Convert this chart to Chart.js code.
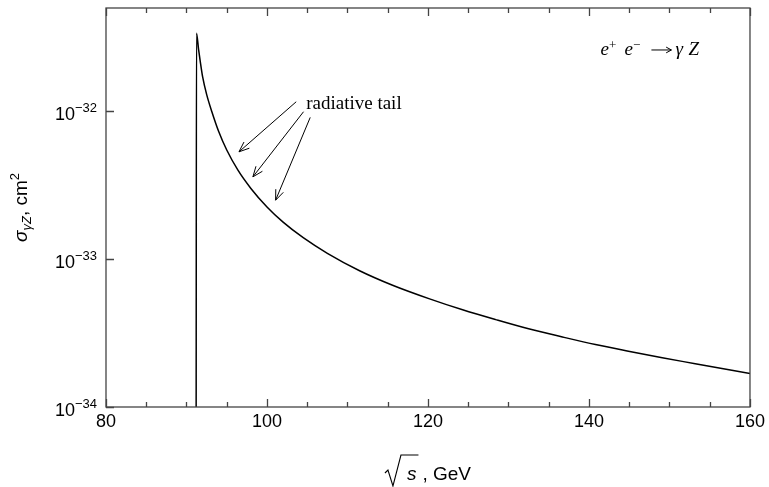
<!DOCTYPE html>
<html>
<head>
<meta charset="utf-8">
<script src="https://cdn.jsdelivr.net/npm/chart.js@4.4.1/dist/chart.umd.min.js"></script>
<style>
  html, body { margin: 0; padding: 0; background: #fff; }
  canvas { display: block; }
</style>
</head>
<body>
<canvas id="sigmaChart" width="769" height="487"></canvas>
<script>
// sqrt(s) in GeV (first point is the threshold drop)
const energy = [91.2, 91.24, 91.5, 91.69, 92.0, 92.5, 93.14, 94.0, 95.0, 96.39, 98.0, 100, 102, 104.5,
    107.5, 111.5, 115.6, 120.2, 124.3, 128.4, 132.5, 136.7, 140.8, 144.9, 149.1, 153.2, 160];
// cross section sigma_gammaZ in cm^2
const sigma = [1e-34, 3.33e-32, 2.60e-32, 2.19e-32, 1.70e-32, 1.29e-32, 9.89e-33, 7.24e-33, 5.43e-33, 3.97e-33,
    2.99e-33, 2.24e-33, 1.77e-33, 1.39e-33, 1.09e-33, 8.32e-34, 6.64e-34, 5.37e-34, 4.53e-34, 3.89e-34,
    3.37e-34, 2.97e-34, 2.64e-34, 2.38e-34, 2.15e-34, 1.96e-34, 1.68e-34];

// axis ticks
const xLabels = [80, 100, 120, 140, 160];
const xMinorStep = 5;
const yDecades = [-34, -33, -32];

// arrows pointing at the radiative tail: [fromX, fromY, toX, toY]
const tailArrows = [
    [103.63, 1.15e-32, 96.52, 5.28e-33],
    [104.54, 9.85e-33, 98.25, 3.58e-33],
    [105.37, 9.02e-33, 101.07, 2.49e-33]
];

const SANS = '"Liberation Sans", Arial, sans-serif';
const SERIF = '"Liberation Serif", "Times New Roman", serif';

// draw text made of pieces with their own font and vertical shift
function richWidth(ctx, parts) {
    let w = 0;
    parts.forEach(p => { ctx.font = p.font; w += ctx.measureText(p.t).width; });
    return w;
}
function drawRich(ctx, x, y, parts) {
    let cx = x;
    parts.forEach(p => {
        ctx.font = p.font;
        ctx.fillText(p.t, cx, y + (p.dy || 0));
        cx += ctx.measureText(p.t).width;
    });
}

function drawArrow(ctx, x1, y1, x2, y2, len, spread) {
    const ang = Math.atan2(y2 - y1, x2 - x1);
    ctx.beginPath();
    ctx.moveTo(x1, y1);
    ctx.lineTo(x2, y2);
    ctx.moveTo(x2 - len * Math.cos(ang - spread), y2 - len * Math.sin(ang - spread));
    ctx.lineTo(x2, y2);
    ctx.lineTo(x2 - len * Math.cos(ang + spread), y2 - len * Math.sin(ang + spread));
    ctx.stroke();
}

const decorPlugin = {
    id: 'decor',
    afterDraw(chart) {
        const ctx = chart.ctx;
        const area = chart.chartArea;
        const xs = chart.scales.x;
        const ys = chart.scales.y;
        ctx.save();

        // frame
        ctx.strokeStyle = '#444';
        ctx.lineWidth = 1.3;
        ctx.strokeRect(area.left, area.top, area.right - area.left, area.bottom - area.top);

        // x ticks, inward, bottom and top
        ctx.beginPath();
        for (let v = 80; v <= 160; v += xMinorStep) {
            const px = Math.round(xs.getPixelForValue(v)) + 0.5;
            const len = xLabels.includes(v) ? 8 : 5;
            ctx.moveTo(px, area.bottom);
            ctx.lineTo(px, area.bottom - len);
            ctx.moveTo(px, area.top);
            ctx.lineTo(px, area.top + len);
        }
        // y ticks, inward, left only
        yDecades.forEach(d => {
            const py = Math.round(ys.getPixelForValue(Math.pow(10, d))) + 0.5;
            ctx.moveTo(area.left, py);
            ctx.lineTo(area.left + 8, py);
        });
        ctx.stroke();

        // y tick labels 10^-n
        ctx.fillStyle = '#000';
        ctx.textBaseline = 'alphabetic';
        ctx.textAlign = 'left';
        yDecades.forEach(d => {
            const py = ys.getPixelForValue(Math.pow(10, d));
            const parts = [
                { t: '10', font: '18px ' + SANS, dy: 9 },
                { t: '\u2212' + Math.abs(d), font: '13px ' + SANS, dy: 1 }
            ];
            const w = richWidth(ctx, parts);
            drawRich(ctx, area.left - 9 - w, py, parts);
        });

        // y axis title
        ctx.save();
        ctx.translate(27, (area.top + area.bottom) / 2);
        ctx.rotate(-Math.PI / 2);
        const yTitle = [
            { t: '\u03C3', font: 'italic 19px ' + SANS },
            { t: '\u03B3Z', font: 'italic 13px ' + SANS, dy: 4 },
            { t: ', cm', font: '19px ' + SANS },
            { t: '2', font: '13px ' + SANS, dy: -8 }
        ];
        drawRich(ctx, -richWidth(ctx, yTitle) / 2, 0, yTitle);
        ctx.restore();

        // x axis title: sqrt(s), GeV
        ctx.font = 'italic 19px ' + SANS;
        const sW = ctx.measureText('s').width;
        ctx.font = '19px ' + SANS;
        const restW = ctx.measureText(', GeV').width;
        const total = 22 + sW + 6 + restW;
        const x0 = (area.left + area.right) / 2 - total / 2;
        const base = 480;
        ctx.strokeStyle = '#000';
        ctx.lineWidth = 1.1;
        ctx.beginPath();
        ctx.moveTo(x0, 473);
        ctx.lineTo(x0 + 3, 470);
        ctx.lineTo(x0 + 8, 486);
        ctx.lineTo(x0 + 16, 455);
        ctx.lineTo(x0 + 22 + sW + 2, 455);
        ctx.stroke();
        ctx.font = 'italic 19px ' + SANS;
        ctx.fillText('s', x0 + 22, base);
        ctx.font = '19px ' + SANS;
        ctx.fillText(', GeV', x0 + 22 + sW + 6, base);

        // process label e+ e- -> gamma Z
        const px0 = xs.getPixelForValue(141.42);
        const pb = ys.getPixelForValue(2.38e-32);
        ctx.font = 'italic 19px ' + SERIF;
        ctx.fillText('e', px0, pb);
        ctx.fillText('e', px0 + 24, pb);
        ctx.fillText('\u03B3', px0 + 75, pb);
        ctx.fillText('Z', px0 + 88, pb);
        ctx.font = '13px ' + SERIF;
        ctx.fillText('+', px0 + 8.5, pb - 6);
        ctx.fillText('\u2212', px0 + 32.5, pb - 6);
        ctx.lineWidth = 1;
        drawArrow(ctx, px0 + 51, pb - 5, px0 + 71, pb - 5, 6, 0.5);

        // radiative tail label and arrows
        ctx.font = '19px ' + SERIF;
        ctx.fillText('radiative tail', xs.getPixelForValue(104.87), ys.getPixelForValue(1.02e-32));
        ctx.strokeStyle = '#000';
        ctx.lineWidth = 1;
        tailArrows.forEach(a => {
            drawArrow(ctx, xs.getPixelForValue(a[0]), ys.getPixelForValue(a[1]),
                xs.getPixelForValue(a[2]), ys.getPixelForValue(a[3]), 11, 0.38);
        });

        ctx.restore();
    }
};

const points = energy.map((e, i) => ({ x: e, y: sigma[i] }));

const ctx = document.getElementById('sigmaChart').getContext('2d');
new Chart(ctx, {
    type: 'line',
    data: {
        datasets: [{
            data: points,
            borderColor: '#000',
            borderWidth: 1.5,
            pointRadius: 0,
            fill: false,
            cubicInterpolationMode: 'monotone'
        }]
    },
    options: {
        responsive: false,
        animation: false,
        devicePixelRatio: 1,
        layout: { padding: { top: 8, right: 17, left: 0, bottom: 0 } },
        plugins: { legend: { display: false }, tooltip: { enabled: false } },
        scales: {
            x: {
                type: 'linear',
                min: 80,
                max: 160,
                ticks: {
                    stepSize: 20,
                    color: '#000',
                    padding: 4,
                    maxRotation: 0,
                    font: { family: SANS, size: 18 }
                },
                grid: { display: false, drawTicks: false },
                border: { display: false },
                afterFit(scale) { scale.height = 80; }
            },
            y: {
                type: 'logarithmic',
                min: 1e-34,
                max: 4.94e-32,
                ticks: { display: false },
                grid: { display: false, drawTicks: false },
                border: { display: false },
                afterFit(scale) { scale.width = 106; }
            }
        }
    },
    plugins: [decorPlugin]
});
</script>
</body>
</html>
